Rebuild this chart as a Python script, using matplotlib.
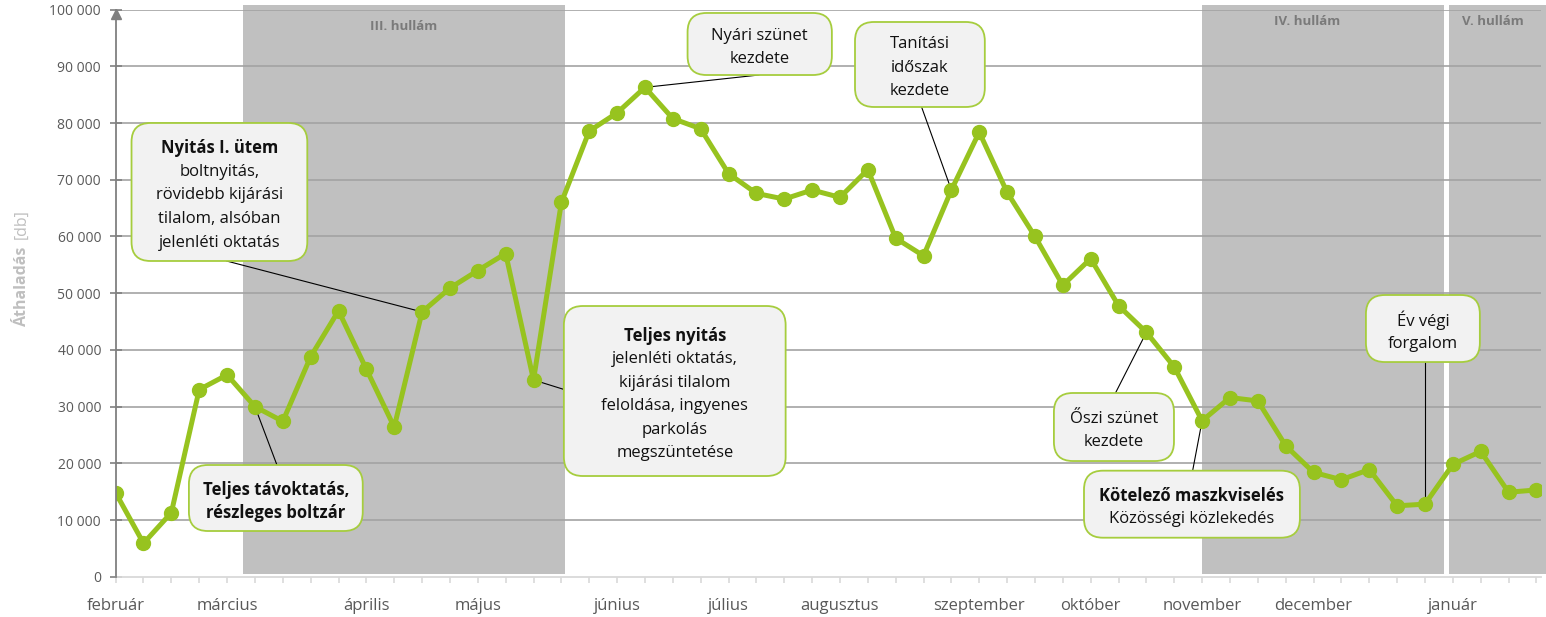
import matplotlib
matplotlib.use('Agg')
import matplotlib.pyplot as plt
from matplotlib.patches import FancyBboxPatch
from matplotlib.ticker import FuncFormatter

plt.rcParams['font.family'] = ['Open Sans', 'DejaVu Sans']

# weekly border crossings (db)
crossings = [14800, 5900, 11300, 33000, 35600, 30000, 27400, 38800, 46900, 36600,
             26400, 46700, 50900, 54000, 57000, 34700, 66000, 78600, 81800, 86300,
             80800, 79000, 71100, 67600, 66600, 68200, 66900, 71800, 59700, 56600,
             68200, 78400, 67800, 60000, 51400, 56100, 47800, 43100, 37000, 27500,
             31600, 31000, 23100, 18400, 17100, 18900, 12500, 12800, 19800, 22100,
             14900, 15300]
weeks = list(range(len(crossings)))

month_names = ['február', 'március', 'április', 'május', 'június', 'július',
               'augusztus', 'szeptember', 'október', 'november', 'december', 'január']
month_weeks = [0, 4, 9, 13, 18, 22, 26, 31, 35, 39, 43, 48]

wave_names = ['III. hullám', 'IV. hullám', 'V. hullám']
wave_starts = [4.57, 39.0, 47.85]
wave_ends = [16.13, 47.7, 51.4]
wave_label_x = [10.35, 42.76, 49.44]
wave_label_y = [97100, 98000, 98000]

# callouts: text lines (text, bold), box (x0, x1, y0, y1), leader start, target week
callouts = [
    ([('Nyitás I. ütem', True), ('boltnyitás,', False), ('rövidebb kijárási', False),
      ('tilalom, alsóban', False), ('jelenléti oktatás', False)],
     (0.57, 6.88, 55680, 80020), (3.98, 55680), 11),
    ([('Teljes távoktatás,', True), ('részleges boltzár', True)],
     (2.63, 8.87, 8060, 19700), (5.79, 19700), 5),
    ([('Teljes nyitás', True), ('jelenléti oktatás,', False), ('kijárási tilalom', False),
      ('feloldása, ingyenes', False), ('parkolás', False), ('megszüntetése', False)],
     (16.09, 24.05, 17760, 47740), (16.09, 33030), 15),
    ([('Nyári szünet', False), ('kezdete', False)],
     (20.53, 25.71, 88480, 99420), (23.09, 88480), 19),
    ([('Tanítási', False), ('időszak', False), ('kezdete', False)],
     (26.54, 31.20, 82840, 97830), (28.93, 82840), 30),
    ([('Őszi szünet', False), ('kezdete', False)],
     (33.68, 37.99, 20400, 32400), (35.89, 32400), 37),
    ([('Kötelező maszkviselés', True), ('Közösségi közlekedés', False)],
     (34.76, 42.51, 6880, 18700), (38.66, 18700), 39),
    ([('Év végi', False), ('forgalom', False)],
     (44.88, 48.97, 37860, 49680), (47.0, 37860), 47),
]

GREEN = '#97c31f'
BOX_EDGE = '#a6cd3e'
TEXT = '#111111'

fig = plt.figure(figsize=(15.46, 6.17), dpi=100)
ax = fig.add_axes([0.0748, 0.0653, 0.9217, 0.919])
ax.set_xlim(0, 51.15)
ax.set_ylim(0, 100000)

# wave background bands
for name, x0, x1, lx, ly in zip(wave_names, wave_starts, wave_ends, wave_label_x, wave_label_y):
    ax.axvspan(x0, x1, ymin=0.004, ymax=1.008, color='#c0c0c0', lw=0, zorder=0.5, clip_on=False)
    ax.text(lx, ly, name, ha='center', va='center', fontsize=9.5, fontweight='bold',
            color='#7a7a7a', zorder=2)

# horizontal gridlines
yticks = list(range(0, 100001, 10000))
for yv in yticks[1:]:
    ax.axhline(yv, color='#a3a3a3', lw=1.2, zorder=1)

ax.plot(weeks, crossings, color=GREEN, lw=3.6, marker='o', ms=10, zorder=3,
        solid_joinstyle='round')

# axes styling
for s in ['top', 'right']:
    ax.spines[s].set_visible(False)
ax.spines['left'].set_color('#808080')
ax.spines['left'].set_linewidth(1.3)
ax.spines['left'].set_zorder(4)
ax.spines['bottom'].set_color('#d9d9d9')
ax.spines['bottom'].set_linewidth(1.3)
ax.plot(0, 99300, marker='^', ms=6.5, color='#808080', clip_on=False, zorder=7)

ax.set_yticks(yticks)
ax.yaxis.set_major_formatter(FuncFormatter(lambda v, p: f'{int(v):,}'.replace(',', ' ')))
ax.tick_params(axis='y', direction='inout', length=9, width=1.2, color='#808080',
               labelsize=10, labelcolor='#595959', pad=6)

xlabels = [''] * len(weeks)
for m, w in zip(month_names, month_weeks):
    xlabels[w] = m
ax.set_xticks(weeks)
ax.set_xticklabels(xlabels)
ax.tick_params(axis='x', direction='out', length=4, width=1.2, color='#d9d9d9',
               labelsize=12, labelcolor='#595959', pad=11)

fig.text(22 / 1546, 1 - 286 / 617, 'Áthaladás', rotation=90, fontsize=11.5,
         fontweight='bold', color='#bfbfbf', ha='center', va='center')
fig.text(22 / 1546, 1 - 224 / 617, '[db]', rotation=90, fontsize=11.5,
         color='#bfbfbf', ha='center', va='center')

# callout boxes need round corners in pixel space
p0 = ax.transData.transform((0, 0))
p1 = ax.transData.transform((1, 1))
aspect = (p1[0] - p0[0]) / (p1[1] - p0[1])
line_step = 4150

for lines, (x0, x1, y0, y1), (sx, sy), target in callouts:
    ax.plot([sx, target], [sy, crossings[target]], color='black', lw=0.8, zorder=2.5)
    box = FancyBboxPatch((x0, y0), x1 - x0, y1 - y0,
                         boxstyle='round,pad=0,rounding_size=0.68',
                         mutation_aspect=aspect, fc='#f2f2f2', ec=BOX_EDGE,
                         lw=1.3, zorder=5, clip_on=False)
    ax.add_patch(box)
    cx = (x0 + x1) / 2
    cy = (y0 + y1) / 2 - 260
    n = len(lines)
    for i, (txt, bold) in enumerate(lines):
        ty = cy + ((n - 1) / 2 - i) * line_step
        ax.text(cx, ty, txt, ha='center', va='center_baseline', fontsize=12,
                fontweight='bold' if bold else 'normal', color=TEXT, zorder=6)

fig.savefig('out.png', dpi=100)
